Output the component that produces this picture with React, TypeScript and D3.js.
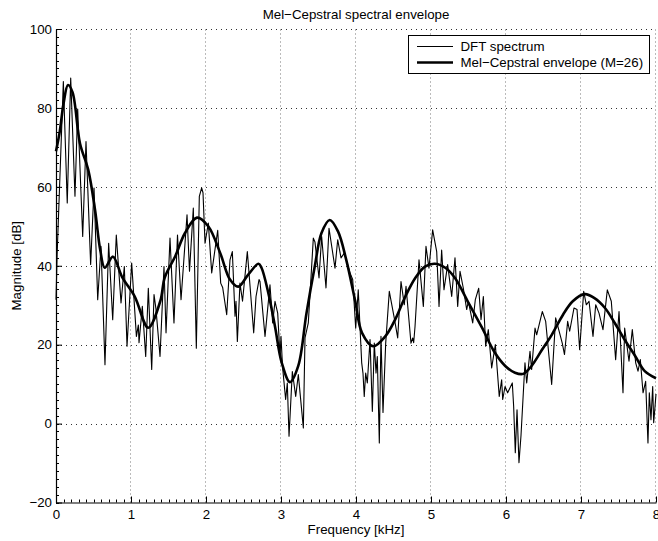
import React, { useEffect, useRef } from 'react';
import * as d3 from 'd3';

const width = 658;
const height = 541;

// DFT magnitude spectrum: frequency [kHz] and magnitude [dB]
const dftFreq = [
  0.0, 0.015, 0.098, 0.15, 0.196, 0.253, 0.289, 0.356, 0.4, 0.462,
  0.507, 0.556, 0.6, 0.653, 0.702, 0.756, 0.804, 0.867, 0.911, 0.947,
  1.009, 1.072, 1.098, 1.107, 1.151, 1.196, 1.231, 1.276, 1.307, 1.333,
  1.387, 1.44, 1.467, 1.52, 1.573, 1.62, 1.667, 1.747, 1.78, 1.831,
  1.871, 1.911, 1.942, 1.96, 1.987, 2.031, 2.076, 2.156, 2.196, 2.222,
  2.276, 2.32, 2.351, 2.387, 2.4, 2.418, 2.453, 2.487, 2.551, 2.636,
  2.667, 2.707, 2.72, 2.787, 2.853, 2.889, 2.92, 2.956, 2.987, 3.0,
  3.02, 3.062, 3.084, 3.107, 3.151, 3.196, 3.231, 3.298, 3.32, 3.364,
  3.431, 3.453, 3.507, 3.542, 3.6, 3.64, 3.72, 3.756, 3.8, 3.844,
  3.92, 3.956, 3.996, 4.03, 4.076, 4.093, 4.11, 4.129, 4.151, 4.187,
  4.218, 4.244, 4.267, 4.284, 4.311, 4.333, 4.36, 4.396, 4.444, 4.51,
  4.556, 4.6, 4.644, 4.667, 4.733, 4.756, 4.769, 4.787, 4.84, 4.898,
  4.933, 4.973, 5.022, 5.076, 5.107, 5.142, 5.173, 5.222, 5.276, 5.32,
  5.356, 5.387, 5.431, 5.476, 5.498, 5.556, 5.591, 5.636, 5.667, 5.698,
  5.729, 5.764, 5.809, 5.858, 5.91, 5.942, 5.956, 5.987, 6.022, 6.084,
  6.102, 6.124, 6.147, 6.173, 6.2, 6.231, 6.253, 6.276, 6.32, 6.342,
  6.387, 6.409, 6.484, 6.529, 6.609, 6.662, 6.75, 6.78, 6.822, 6.849,
  6.907, 6.947, 6.982, 7.036, 7.071, 7.107, 7.16, 7.196, 7.24, 7.293,
  7.351, 7.404, 7.462, 7.507, 7.56, 7.582, 7.64, 7.684, 7.729, 7.76,
  7.791, 7.827, 7.862, 7.893, 7.911, 7.933, 7.956, 7.969, 7.987, 8.0,
];
const dftMag = [
  31.4, 42.8, 86.7, 55.9, 87.6, 57.6, 79.7, 47.4, 71.5, 40.3,
  59.7, 31.4, 44.9, 14.9, 45.7, 26.3, 47.8, 30.6, 39.8, 19.6,
  40.7, 22.1, 25.0, 20.5, 29.7, 17.0, 34.3, 13.7, 32.7, 29.0,
  17.0, 39.8, 23.0, 47.0, 25.5, 47.8, 31.4, 52.9, 38.6, 54.6,
  19.1, 57.6, 59.7, 58.5, 45.7, 50.8, 38.2, 49.0, 35.6, 34.5,
  27.6, 41.5, 43.6, 27.2, 31.0, 20.8, 35.6, 31.0, 43.6, 23.0,
  32.2, 36.5, 36.0, 22.1, 35.2, 25.5, 31.0, 28.0, 17.0, 22.1,
  14.5, 6.1, 10.3, -3.2, 13.2, 6.9, 12.4, -1.1, 21.7, 25.5,
  47.0, 46.0, 36.9, 47.4, 34.4, 49.5, 39.4, 46.6, 42.0, 43.2,
  38.2, 36.5, 24.2, 33.9, 15.4, 12.8, 6.9, 12.8, 10.3, 21.3,
  3.1, 20.4, 12.8, 17.0, -4.9, 22.1, 2.8, 20.4, 33.5, 26.8,
  21.7, 36.0, 30.1, 34.8, 20.4, 21.7, 20.5, 24.6, 41.5, 29.7,
  44.9, 39.4, 49.1, 43.6, 29.7, 44.0, 33.9, 40.3, 32.2, 42.0,
  29.7, 38.6, 34.3, 28.9, 31.0, 25.5, 31.4, 34.3, 26.3, 32.2,
  19.6, 23.8, 14.1, 20.0, 6.9, 11.1, 6.1, 9.4, 7.8, 10.3,
  4.4, -7.4, 3.5, -9.9, -3.0, 7.8, 15.4, 10.3, 18.3, 13.7,
  24.2, 22.5, 28.4, 25.9, 9.9, 26.8, 20.4, 17.5, 25.9, 23.4,
  29.3, 28.9, 18.7, 33.5, 30.1, 31.0, 22.1, 30.1, 28.0, 23.8,
  33.9, 31.0, 16.2, 28.4, 7.8, 24.2, 15.8, 23.8, 15.4, 13.3,
  16.2, 7.8, 10.7, -4.9, 7.8, 1.0, 9.4, 0.2, 4.3, 7.5,
];

// Mel-cepstral envelope (M=26)
const envFreq = [
  0.0, 0.05, 0.1, 0.16, 0.22, 0.32, 0.43, 0.52, 0.59, 0.65,
  0.76, 0.88, 1.05, 1.23, 1.39, 1.45, 1.59, 1.72, 1.88, 2.03,
  2.19, 2.32, 2.43, 2.56, 2.7, 2.74, 2.83, 2.92, 3.01, 3.12,
  3.23, 3.34, 3.45, 3.54, 3.65, 3.76, 3.87, 3.99, 4.08, 4.23,
  4.39, 4.52, 4.65, 4.79, 4.92, 5.05, 5.19, 5.32, 5.5, 5.68,
  5.85, 5.99, 6.12, 6.23, 6.34, 6.48, 6.61, 6.76, 6.89, 7.05,
  7.18, 7.32, 7.45, 7.58, 7.72, 7.85, 8.0,
];
const envMag = [
  69.0, 74.0, 81.0, 85.8, 84.0, 71.0, 64.3, 54.2, 44.0, 39.5,
  42.3, 37.2, 32.2, 24.3, 31.0, 37.0, 42.4, 48.3, 52.2, 50.0,
  43.2, 36.5, 34.7, 37.7, 40.5, 39.5, 33.2, 24.6, 15.4, 10.5,
  14.6, 28.0, 39.8, 48.3, 51.6, 48.7, 41.5, 31.0, 23.0, 19.6,
  22.1, 26.3, 31.9, 36.9, 39.8, 40.5, 39.5, 36.9, 30.6, 24.3,
  18.0, 14.6, 12.9, 12.6, 14.6, 18.7, 22.5, 27.6, 31.0, 32.8,
  31.8, 29.3, 25.5, 21.3, 17.2, 13.3, 11.5,
];

const xTicks = [0, 1, 2, 3, 4, 5, 6, 7, 8];
const yTicks = [-20, 0, 20, 40, 60, 80, 100];
const legendLabels = ['DFT spectrum', 'Mel\u2212Cepstral envelope (M=26)'];
const titleText = 'Mel\u2212Cepstral spectral envelope';
const xLabel = 'Frequency [kHz]';
const yLabel = 'Magnitude [dB]';

const FONT = '"Liberation Sans", Arial, Helvetica, sans-serif';

const MelCepstrumChart = () => {
  const ref = useRef<SVGSVGElement>(null);

  useEffect(() => {
    const svg = d3.select(ref.current);
    svg.selectAll('*').remove();

    const x = d3.scaleLinear().domain([0, 8]).range([56, 656]);
    const y = d3.scaleLinear().domain([-20, 100]).range([502.5, 29]);
    const fmt = d3.format('d'); // d3 uses the unicode minus sign

    svg.append('rect').attr('width', width).attr('height', height).attr('fill', '#fff');

    // dotted grid
    const grid = svg.append('g').attr('stroke', '#333').attr('stroke-width', 1)
      .attr('stroke-dasharray', '1,4');
    grid.selectAll('line.h')
      .data(yTicks.filter(d => d > -20))
      .enter().append('line')
      .attr('x1', x(0)).attr('x2', x(8))
      .attr('y1', d => Math.round(y(d)) + 0.5).attr('y2', d => Math.round(y(d)) + 0.5);
    grid.selectAll('line.v')
      .data(xTicks.filter(d => d > 0))
      .enter().append('line')
      .attr('stroke', '#777')
      .attr('stroke-dasharray', '1,3')
      .attr('x1', d => Math.round(x(d)) - 0.5).attr('x2', d => Math.round(x(d)) - 0.5)
      .attr('y1', y(-20)).attr('y2', y(100));

    // minor ticks
    const minor = svg.append('g').attr('stroke', '#000').attr('stroke-width', 1);
    minor.selectAll('line.mx')
      .data(d3.range(0, 80).map(i => i / 10))
      .enter().append('line')
      .attr('x1', d => Math.round(x(d)) + 0.5).attr('x2', d => Math.round(x(d)) + 0.5)
      .attr('y1', y(-20)).attr('y2', y(-20) - 3);
    minor.selectAll('line.my')
      .data(d3.range(-20, 100, 2))
      .enter().append('line')
      .attr('y1', d => Math.round(y(d)) + 0.5).attr('y2', d => Math.round(y(d)) + 0.5)
      .attr('x1', x(0)).attr('x2', x(0) + 3);

    // axes, ticks pointing inward
    const xAxis = svg.append('g')
      .attr('transform', `translate(0,${y(-20)})`)
      .call(d3.axisBottom(x).tickValues(xTicks).tickFormat(fmt).tickSizeInner(-6).tickSizeOuter(0).tickPadding(7));
    const yAxis = svg.append('g')
      .attr('transform', `translate(${x(0)},0)`)
      .call(d3.axisLeft(y).tickValues(yTicks).tickFormat(fmt).tickSizeInner(-6).tickSizeOuter(0).tickPadding(4));
    [xAxis, yAxis].forEach(g => {
      g.selectAll('text').attr('font-family', FONT).attr('font-size', 13.3).attr('fill', '#000');
      g.selectAll('line').attr('stroke', '#000');
      g.select('.domain').attr('stroke', '#000').attr('stroke-width', 1.2);
      g.attr('font-family', FONT);
    });

    // DFT spectrum
    const dftData = dftFreq.map((f, i) => [f, dftMag[i]] as [number, number]);
    const envData = envFreq.map((f, i) => [f, envMag[i]] as [number, number]);

    const line = d3.line<[number, number]>().x(d => x(d[0])).y(d => y(d[1]));
    svg.append('path')
      .datum(dftData)
      .attr('d', line)
      .attr('fill', 'none')
      .attr('stroke', '#000')
      .attr('stroke-width', 1.1)
      .attr('stroke-linejoin', 'round');

    const smooth = d3.line<[number, number]>()
      .x(d => x(d[0])).y(d => y(d[1]))
      .curve(d3.curveCatmullRom.alpha(0.5));
    svg.append('path')
      .datum(envData)
      .attr('d', smooth)
      .attr('fill', 'none')
      .attr('stroke', '#000')
      .attr('stroke-width', 2.6)
      .attr('stroke-linejoin', 'round');

    // title and axis labels
    svg.append('text')
      .attr('x', 356).attr('y', 19)
      .attr('text-anchor', 'middle')
      .attr('font-family', FONT).attr('font-size', 13.3)
      .text(titleText);
    svg.append('text')
      .attr('x', 356).attr('y', 533.5)
      .attr('text-anchor', 'middle')
      .attr('font-family', FONT).attr('font-size', 13.3)
      .text(xLabel);
    svg.append('text')
      .attr('transform', `translate(20.5,${(y(-20) + y(100)) / 2}) rotate(-90)`)
      .attr('text-anchor', 'middle')
      .attr('font-family', FONT).attr('font-size', 13.3)
      .text(yLabel);

    // legend
    const legend = svg.append('g');
    legend.append('rect')
      .attr('x', 408.5).attr('y', 35.5).attr('width', 241).attr('height', 38)
      .attr('fill', '#fff').attr('stroke', '#000').attr('stroke-width', 1);
    const widths = [1.1, 2.6];
    legendLabels.forEach((label, i) => {
      const cy = 46.5 + i * 16;
      legend.append('line')
        .attr('x1', 417).attr('x2', 453).attr('y1', cy).attr('y2', cy)
        .attr('stroke', '#000').attr('stroke-width', widths[i]);
      legend.append('text')
        .attr('x', 460.5).attr('y', cy + 4.4)
        .attr('font-family', FONT).attr('font-size', 13.3)
        .text(label);
    });
  }, []);

  return <svg ref={ref} width={width} height={height} />;
};

export default function App() {
  return (
    <div style={{ position: 'absolute', left: 0, top: 0 }}>
      <MelCepstrumChart />
    </div>
  );
}
